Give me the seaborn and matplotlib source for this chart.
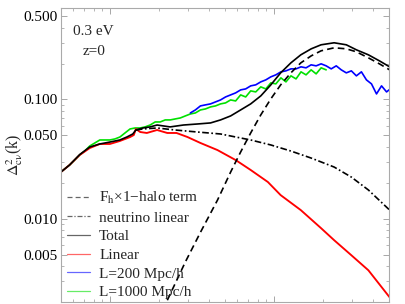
import matplotlib
matplotlib.use("Agg")
import matplotlib.pyplot as plt
import seaborn as sns
from matplotlib.ticker import FixedLocator, FixedFormatter, NullFormatter

# region Datos
# lineal (rojo)
k_lin = [0.00494, 0.00568, 0.00655, 0.00754, 0.00868, 0.0100, 0.0115, 0.0133, 0.0140, 0.0144,
         0.0153, 0.0168, 0.0194, 0.0224, 0.0255, 0.0297, 0.0357, 0.0453, 0.0585, 0.0722,
         0.0919, 0.110, 0.146, 0.194, 0.233, 0.297, 0.377, 0.508]
lin_val = [0.0241, 0.0282, 0.0342, 0.0391, 0.0423, 0.0423, 0.0448, 0.0484, 0.0503, 0.0565,
           0.0533, 0.0523, 0.0554, 0.0523, 0.0523, 0.0484, 0.0431, 0.0376, 0.0310, 0.0256,
           0.0203, 0.01575, 0.01179, 0.00832, 0.0066, 0.00493, 0.00369, 0.00219]

# total (negro)
k_tot = [0.00494, 0.00568, 0.00655, 0.00754, 0.00868, 0.0100, 0.0115, 0.0127, 0.0138, 0.0144,
         0.0159, 0.0176, 0.0194, 0.0233, 0.0281, 0.0341, 0.0411, 0.0473, 0.0545, 0.0627,
         0.0722, 0.0832, 0.0958, 0.110, 0.127, 0.146, 0.169, 0.194, 0.233, 0.2765,
         0.3185, 0.377, 0.44, 0.508]
tot_val = [0.0241, 0.0282, 0.0345, 0.0399, 0.0423, 0.0439, 0.0457, 0.0484, 0.0513, 0.0554,
           0.0576, 0.0588, 0.0610, 0.0588, 0.0610, 0.0622, 0.0635, 0.0673, 0.0727, 0.0816,
           0.0917, 0.1070, 0.1324, 0.1670, 0.2026, 0.2366, 0.2657, 0.2871, 0.2985, 0.2871,
           0.2606, 0.2366, 0.2106, 0.1876]

# termo 1-halo (discontinua)
k_1h = [0.0224, 0.0288, 0.0357, 0.0453, 0.0545, 0.0627, 0.0722, 0.0832, 0.0958, 0.110,
        0.127, 0.146, 0.169, 0.194, 0.233, 0.2765, 0.3185, 0.377, 0.44, 0.508]
oneh_val = [0.00207, 0.00431, 0.0077, 0.0143, 0.0246, 0.0362, 0.0523, 0.0741, 0.1010, 0.1324,
            0.1670, 0.2026, 0.2320, 0.2556, 0.2709, 0.2657, 0.2507, 0.2232, 0.1988, 0.1770]

# neutrino lineal (punto-raya)
k_nu = [0.0144, 0.0159, 0.0194, 0.0250, 0.0341, 0.0473, 0.0722, 0.0958, 0.127, 0.169,
        0.233, 0.297, 0.377, 0.508]
nu_val = [0.0554, 0.0565, 0.0576, 0.0554, 0.0533, 0.0513, 0.0457, 0.0415, 0.0369, 0.0322,
          0.0271, 0.0223, 0.0174, 0.0118]

# simulaciones
k_sim = [0.004935, 0.005295, 0.005683, 0.006099, 0.006546, 0.007025, 0.00754, 0.008091, 0.008683, 0.009318,
         0.01, 0.01073, 0.01152, 0.01236, 0.01327, 0.01424, 0.01528, 0.0164, 0.0176, 0.01889,
         0.02027, 0.02175, 0.02334, 0.02505, 0.02688, 0.02885, 0.03096, 0.03322, 0.03566, 0.03827,
         0.04107, 0.04407, 0.04729, 0.05076, 0.05447, 0.05845, 0.06273, 0.06732, 0.07224, 0.07752,
         0.0832, 0.08929, 0.09582, 0.1028, 0.1104, 0.1185, 0.1271, 0.1365, 0.1464, 0.1571,
         0.1687, 0.181, 0.1942, 0.2084, 0.2237, 0.2401, 0.2576, 0.2765, 0.2968, 0.3185,
         0.3418, 0.3668, 0.3937, 0.4225, 0.4534, 0.4866, 0.5222]
l1000_val = [0.0241, 0.0261, 0.0282, 0.0310, 0.0342, 0.0369, 0.0407, 0.0431, 0.0457, 0.0457,
             0.0457, 0.0466, 0.0484, 0.0523, 0.0565, 0.0576, 0.0576, 0.0588, 0.0610, 0.0647,
             0.0647, 0.0673, 0.0673, 0.0686, 0.0699, 0.0727, 0.0755, 0.0770, 0.0816, 0.0832,
             0.0865, 0.0882, 0.0917, 0.0935, 0.0990, 0.0971, 0.1091, 0.1049, 0.1179, 0.1156,
             0.1274, 0.1225, 0.1376, 0.1350, 0.1516, 0.1403, 0.1576, 0.1486, 0.1703, 0.1607,
             0.1770, 0.1638, 0.1840, 0.1770]
l200_val = [0.0770, 0.0816, 0.0882, 0.0900, 0.0917, 0.0953, 0.0990, 0.1049, 0.1091, 0.1134,
            0.1202, 0.1225, 0.1299, 0.1325, 0.1403, 0.1458, 0.1546, 0.1607, 0.1703, 0.1736,
            0.1804, 0.1804, 0.1876, 0.1840, 0.1950, 0.1912, 0.1988, 0.1912, 0.1804, 0.1912,
            0.1770, 0.1670, 0.1736, 0.1576, 0.1703, 0.1458, 0.1350, 0.1112, 0.1299, 0.1156,
            0.1249]

ytick_vals = [0.005, 0.01, 0.05, 0.1, 0.5]
ytick_labels = ["0.005", "0.010", "0.050", "0.100", "0.500"]
# endregion

# region Estilo
sns.set_theme(style="ticks")
plt.rcParams["font.family"] = ["Liberation Serif", "DejaVu Serif"]
plt.rcParams["mathtext.fontset"] = "stix"
fs = 11
# endregion

# region Figura
fig = plt.figure(figsize=(4.05, 3.04), dpi=100)
ax = fig.add_axes([60.5 / 405, 1 - 302 / 304, 328 / 405, 294.5 / 304])

sns.lineplot(x=k_sim[:len(l1000_val)], y=l1000_val, ax=ax, color="#00e000", lw=1.2,
             label="L=1000 Mpc/h")
sns.lineplot(x=k_sim[26:26 + len(l200_val)], y=l200_val, ax=ax, color="#0000ff", lw=1.2,
             label="L=200 Mpc/h")
sns.lineplot(x=k_lin, y=lin_val, ax=ax, color="#ff0000", lw=1.35, label="Linear")
sns.lineplot(x=k_tot, y=tot_val, ax=ax, color="black", lw=1.2, label="Total")
sns.lineplot(x=k_1h, y=oneh_val, ax=ax, color="black", lw=1.2, linestyle=(0, (4, 2.5)),
             label="F$_\\mathrm{h}$×1−halo term")
sns.lineplot(x=k_nu, y=nu_val, ax=ax, color="black", lw=1.2, linestyle=(0, (4, 1.5, 1, 1.5)),
             label="neutrino linear")

ax.set_xscale("log")
ax.set_yscale("log")
ax.set_xlim(0.005, 0.5)
ax.set_ylim(0.002, 0.59)

# ejes y marcas
for s in ax.spines.values():
    s.set_color("#aaaaaa")
    s.set_linewidth(0.8)
ax.yaxis.set_major_locator(FixedLocator(ytick_vals))
ax.yaxis.set_major_formatter(FixedFormatter(ytick_labels))
ax.yaxis.set_minor_formatter(NullFormatter())
ax.xaxis.set_minor_formatter(NullFormatter())
ax.tick_params(which="both", direction="in", top=True, right=True, color="#999999",
               labelbottom=False, labelsize=fs, labelcolor="black", pad=2)
ax.tick_params(which="major", length=4, width=0.6)
ax.tick_params(which="minor", length=2.5, width=0.5)

ax.set_xlabel("")
ax.set_ylabel(r"$\Delta^2_{\mathrm{c\nu}}$(k)", fontsize=11.5, labelpad=-1)

ax.text(0.038, 0.917, "0.3 eV", transform=ax.transAxes, fontsize=fs, va="center")
ax.text(0.066, 0.849, "z=0", transform=ax.transAxes, fontsize=fs, va="center")

# leyenda en el orden del original
handles, labels = ax.get_legend_handles_labels()
order = ["F$_\\mathrm{h}$×1−halo term", "neutrino linear", "Total", "Linear",
         "L=200 Mpc/h", "L=1000 Mpc/h"]
hmap = dict(zip(labels, handles))
leg = ax.legend([hmap[o] for o in order], order, loc="upper left",
                bbox_to_anchor=(0.02, 0.38), frameon=False, fontsize=fs,
                handlelength=1.5, handletextpad=0.6, labelspacing=0.32, borderpad=0,
                borderaxespad=0)
for line in leg.get_lines():
    line.set_linewidth(0.9)
    line.set_alpha(0.6)

fig.savefig("out.png", dpi=100)
# endregion
